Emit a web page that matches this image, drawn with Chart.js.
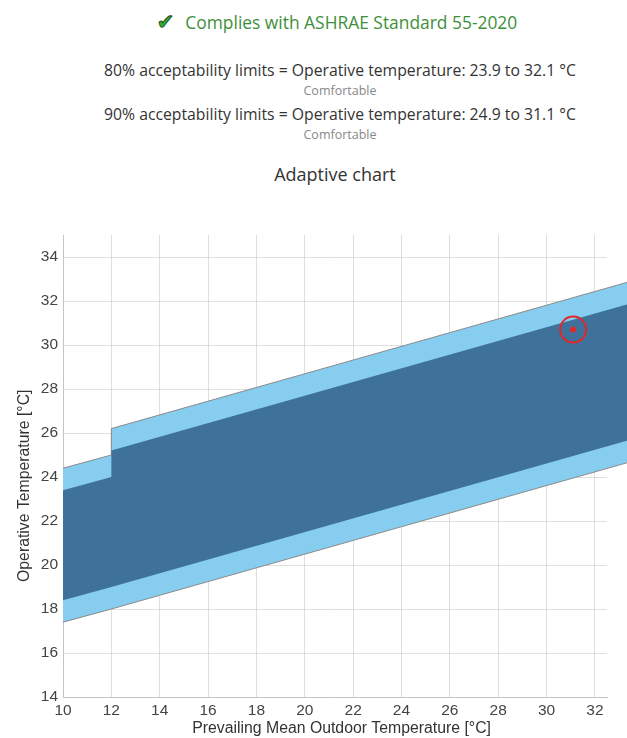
<!DOCTYPE html>
<html><head><meta charset="utf-8">
<script src="https://cdn.jsdelivr.net/npm/chart.js@4"></script>
<style>
html,body{margin:0;padding:0;background:#fff;overflow:hidden;width:627px;height:738px;position:relative;}
.t{position:absolute;left:0;width:680px;text-align:center;font-family:"Open Sans",sans-serif;white-space:nowrap;}
#status{top:9px;line-height:26px;font-size:17.4px;color:#3e8f3a;padding-right:6px;box-sizing:border-box;}
#status .ck{color:#2fae2f;-webkit-text-stroke:0.9px #1d3d1d;font-family:"DejaVu Sans",sans-serif;font-size:21px;margin-right:11px;}
.lim{font-size:15.75px;line-height:20px;color:#333;}
.cf{font-size:12.5px;line-height:14px;color:#888;}
#ttl{top:162px;font-size:18px;line-height:24px;color:#333;padding-right:10px;box-sizing:border-box;}
#c{position:absolute;left:0;top:200px;}
</style></head>
<body>
<div class="t" id="status"><span class="ck">✔</span>Complies with ASHRAE Standard 55-2020</div>
<div class="t lim" style="top:60px">80% acceptability limits = Operative temperature: 23.9 to 32.1 °C</div>
<div class="t cf" style="top:84px">Comfortable</div>
<div class="t lim" style="top:104px">90% acceptability limits = Operative temperature: 24.9 to 31.1 °C</div>
<div class="t cf" style="top:128px">Comfortable</div>
<div class="t" id="ttl">Adaptive chart</div>
<canvas id="c" width="680" height="538"></canvas>
<script>
// Band outlines (prevailing mean outdoor temp -> operative temp)
const bandX   = [10, 12, 12, 33.5];
const upper80 = [24.4, 25.0, 26.2, 32.9];
const lower80 = [17.4, 18.0, 18.0, 24.7];
const upper90 = [23.4, 24.0, 25.2, 31.9];
const lower90 = [18.4, 19.0, 19.0, 25.7];
// Current condition
const pointX = [31.1];
const pointY = [30.7];
// Tick labels
const xTicks = [10, 12, 14, 16, 18, 20, 22, 24, 26, 28, 30, 32];
const yTicks = [14, 16, 18, 20, 22, 24, 26, 28, 30, 32, 34];

const pts = (xs, ys) => xs.map((x, i) => ({x, y: ys[i]}));

const LIGHT = '#86CDF0';
const DARK = '#3F729B';
const EDGE = '#8a8a8a';
const RED = '#e3262a';

const unclip = {
  id: 'unclip',
  beforeDatasetsDraw(chart) { chart.$savedRight = chart.chartArea.right; chart.chartArea.right = chart.width; },
  afterDatasetsDraw(chart) { chart.chartArea.right = chart.$savedRight; }
};

const axisFont = {family: 'Liberation Sans, Arial, sans-serif', size: 15.5};
const titleFont = {family: 'Liberation Sans, Arial, sans-serif', size: 15.8};
const NB = '\u00a0';

new Chart(document.getElementById('c'), {
  type: 'scatter',
  data: {
    datasets: [
      {data: pts(bandX, lower80), showLine: true, borderColor: EDGE, borderWidth: 1, pointRadius: 0, fill: false, order: 8.5, clip: false},
      {data: pts(bandX, upper80), showLine: true, borderColor: EDGE, borderWidth: 1, pointRadius: 0, backgroundColor: LIGHT, fill: 0, order: 9, clip: false},
      {data: pts(bandX, lower90), showLine: true, borderWidth: 0, borderColor: 'rgba(0,0,0,0)', pointRadius: 0, fill: false, order: 7, clip: false},
      {data: pts(bandX, upper90), showLine: true, borderWidth: 0, borderColor: 'rgba(0,0,0,0)', pointRadius: 0, backgroundColor: DARK, fill: 2, order: 6, clip: false},
      {data: pts(pointX, pointY), pointRadius: 13, pointBorderWidth: 2, pointBorderColor: RED, pointBackgroundColor: 'rgba(0,0,0,0)', order: 1, clip: false},
      {data: pts(pointX, pointY), pointRadius: 3, pointBorderWidth: 0, pointBackgroundColor: RED, order: 0, clip: false}
    ]
  },
  options: {
    responsive: false,
    animation: false,
    events: [],
    layout: {padding: {left: 0, top: 35, right: 73, bottom: 0}},
    plugins: {legend: {display: false}, tooltip: {enabled: false}},
    scales: {
      x: {
        type: 'linear', min: 10, max: 32.5, z: 1,
        afterBuildTicks: s => { s.ticks = xTicks.map(v => ({value: v})); },
        afterFit: s => { s.height = 41; },
        grid: {color: 'rgba(185,185,185,0.45)', drawTicks: false},
        border: {color: '#c4c4c4'},
        ticks: {font: axisFont, color: '#444', padding: 4, maxRotation: 0},
        title: {display: true, text: NB.repeat(3) + 'Prevailing Mean Outdoor Temperature [°C]', font: titleFont, color: '#333', padding: 0}
      },
      y: {
        type: 'linear', min: 14, max: 35, z: 1,
        afterBuildTicks: s => { s.ticks = yTicks.map(v => ({value: v})); },
        afterFit: s => { s.width = 63; },
        grid: {color: 'rgba(185,185,185,0.45)', drawTicks: false},
        border: {color: '#c4c4c4'},
        ticks: {font: axisFont, color: '#444', padding: 5},
        title: {display: true, text: 'Operative Temperature [°C]' + NB.repeat(9), font: titleFont, color: '#333', padding: {top: 15, bottom: 0}}
      }
    }
  },
  plugins: [unclip]
});
</script>
</body></html>
